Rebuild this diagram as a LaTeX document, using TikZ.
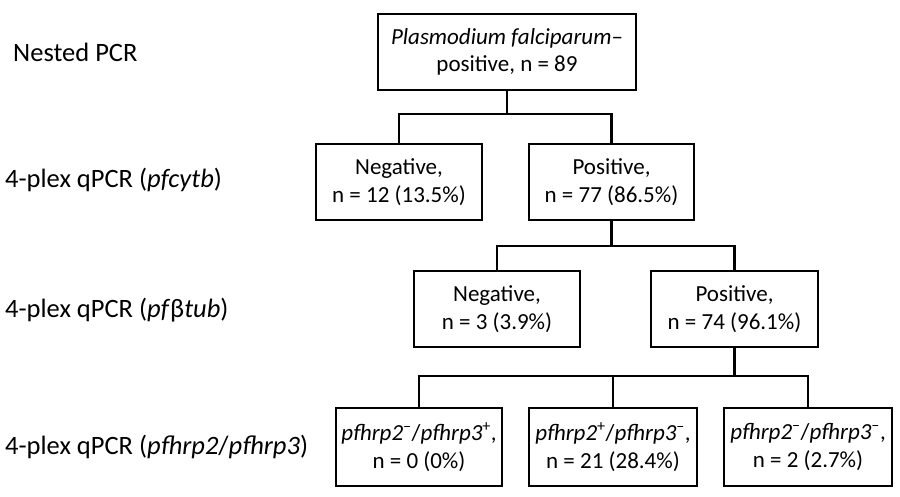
\documentclass[tikz,border=0pt]{standalone}
\usepackage{fontspec}
\setmainfont{Carlito}
\begin{document}
\begin{tikzpicture}[x=1pt,y=-1pt,
  box/.style={draw=black,line width=2.5pt,fill=white,inner sep=0pt,
    minimum height=76pt,align=center,font=\fontsize{23}{27.5}\selectfont},
  stage/.style={anchor=west,inner sep=0pt,font=\fontsize{26.5}{30}\selectfont},
  link/.style={draw=black,line width=2.5pt,line join=miter}]
\useasboundingbox (0,0) rectangle (900,496);
% stage labels
\node[stage] (l1) at (13,52) {Nested PCR};
\node[stage] (l2) at (5,180) {4-plex qPCR (\textit{pfcytb})};
\node[stage] (l3) at (5,310) {4-plex qPCR (\textit{pf}\textup{β}\textit{tub})};
\node[stage] (l4) at (5,447) {4-plex qPCR (\textit{pfhrp2}/\textit{pfhrp3})};
% boxes
\node[box,minimum width=258pt] (top) at (507,52) {\textit{Plasmodium falciparum}–\\positive, n = 89};
\node[box,minimum width=166pt] (neg2) at (399,182) {Negative,\\n = 12 (13.5\%)};
\node[box,minimum width=165pt] (pos2) at (611.5,182) {Positive,\\n = 77 (86.5\%)};
\node[box,minimum width=166pt] (neg3) at (497,309) {Negative,\\n = 3 (3.9\%)};
\node[box,minimum width=167pt] (pos3) at (734.5,309) {Positive,\\n = 74 (96.1\%)};
\node[box,minimum width=166pt,minimum height=78pt] (a) at (419,447) {\textit{pfhrp2}\textsuperscript{–}/\textit{pfhrp3}\textsuperscript{+},\\n = 0 (0\%)};
\node[box,minimum width=168pt,minimum height=78pt] (b) at (613,447) {\textit{pfhrp2}\textsuperscript{+}/\textit{pfhrp3}\textsuperscript{–},\\n = 21 (28.4\%)};
\node[box,minimum width=168pt,minimum height=78pt] (c) at (808,447) {\textit{pfhrp2}\textsuperscript{–}/\textit{pfhrp3}\textsuperscript{–},\\n = 2 (2.7\%)};
% junctions
\coordinate (j1) at (507,114);
\coordinate (j2) at (611.5,246);
\coordinate (j3) at (734.5,376);
% connectors
\draw[link] (top.south) -- (j1);
\draw[link] (neg2.north) |- (j1) -| (pos2.north);
\draw[link] (pos2.south) -- (j2);
\draw[link] (neg3.north) |- (j2) -| (pos3.north);
\draw[link] (pos3.south) -- (j3);
\draw[link] (a.north) |- (j3) -| (c.north);
\draw[link] (b.north) -- (b.north |- j3);
\end{tikzpicture}
\end{document}
